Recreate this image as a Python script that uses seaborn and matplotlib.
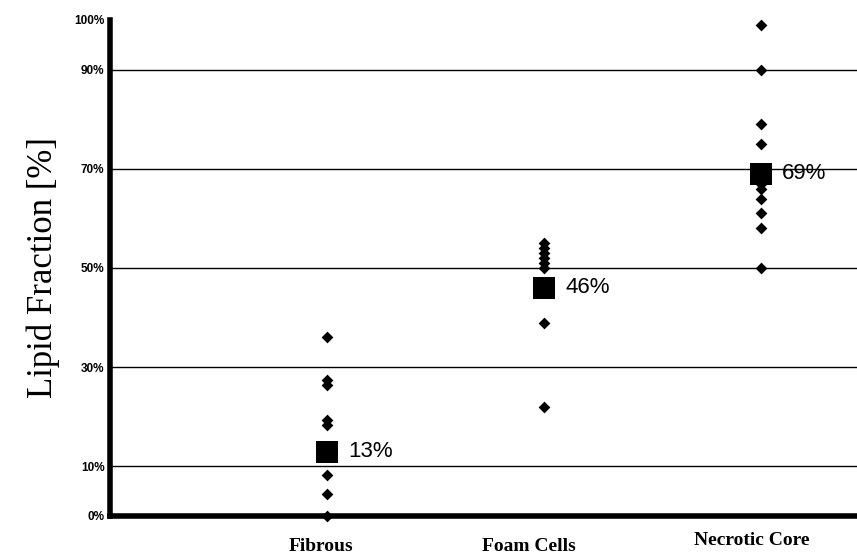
import matplotlib
matplotlib.use("Agg")
import matplotlib.pyplot as plt
import matplotlib.transforms as mtransforms
import seaborn as sns
import pandas as pd

categories = ["Fibrous", "Foam Cells", "Necrotic Core"]
fibrous = [36, 27.4, 26.4, 19.4, 18.3, 8.3, 4.4, 0]
foam = [55, 54, 53, 52, 51, 50, 39, 22]
necrotic = [99, 90, 79, 75, 67, 66, 64, 61, 58, 50]
means = [13, 46, 69]
mean_labels = ["13%", "46%", "69%"]
ytick_vals = [0, 10, 30, 50, 70, 90, 100]
ytick_labels = ["0%", "10%", "30%", "50%", "70%", "90%", "100%"]

pts = pd.DataFrame({
    "cat": [categories[0]] * len(fibrous) + [categories[1]] * len(foam) + [categories[2]] * len(necrotic),
    "val": fibrous + foam + necrotic,
})
mdf = pd.DataFrame({"cat": categories, "val": means})

sns.set_style("white")
fig = plt.figure(figsize=(8.57, 5.54), dpi=100)
ax = fig.add_axes([110 / 857, 1 - 516 / 554, 1 - 110 / 857, (516 - 20) / 554])

for g in [10, 30, 50, 70, 90]:
    ax.axhline(g, color="black", lw=1.0, zorder=0)

sns.stripplot(data=pts, x="cat", y="val", order=categories, jitter=False,
              marker="D", color="black", size=6, ax=ax, zorder=3, clip_on=False)
sns.stripplot(data=mdf, x="cat", y="val", order=categories, jitter=False,
              marker="s", color="black", size=16, ax=ax, zorder=4)

for i, (m, lab) in enumerate(zip(means, mean_labels)):
    ax.annotate(lab, (i, m), xytext=(15, 0), textcoords="offset points",
                ha="left", va="center", fontsize=16, color="black",
                family="Liberation Sans")

ax.set_xlim(-1.0, 2.44)
ax.set_ylim(0, 100)
ax.set_yticks(ytick_vals)
ax.set_yticklabels(ytick_labels, fontsize=8.5, fontweight="bold",
                   family="Liberation Sans", color="black")
ax.set_xticks(range(3))
ax.set_xticklabels(categories, fontsize=14, fontweight="bold",
                   family="Liberation Serif", color="black")
ax.tick_params(axis="y", length=0, pad=4)
ax.tick_params(axis="x", length=0, pad=16)
shifts = {"Fibrous": (-6, 0), "Foam Cells": (-15, 0), "Necrotic Core": (-10, 6)}
for lbl in ax.get_xticklabels():
    dx, dy = shifts[lbl.get_text()]
    lbl.set_transform(lbl.get_transform() +
                      mtransforms.ScaledTranslation(dx / 100, dy / 100, fig.dpi_scale_trans))
ax.set_xlabel("")
ax.set_ylabel("Lipid Fraction [%]", fontsize=25, family="Liberation Serif",
              color="black", labelpad=10)

for s in ["top", "right"]:
    ax.spines[s].set_visible(False)
for s in ["left", "bottom"]:
    ax.spines[s].set_color("black")
    ax.spines[s].set_linewidth(4)

fig.savefig("out.png", dpi=100)
